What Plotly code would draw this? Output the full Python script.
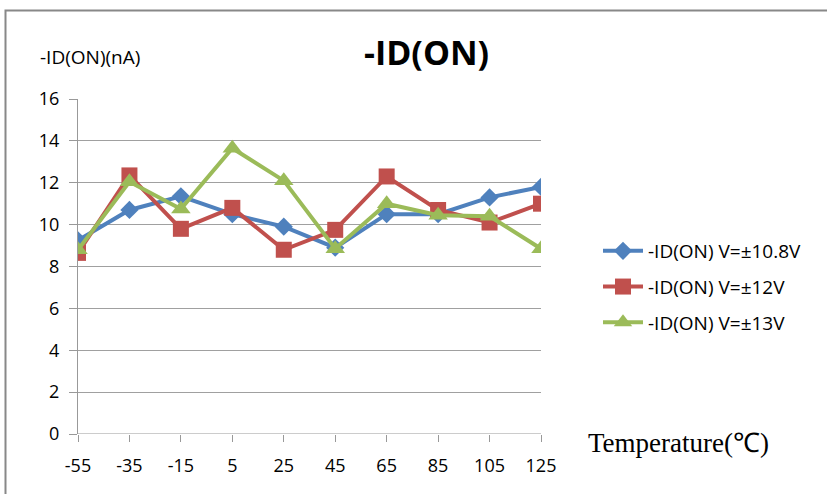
import plotly.graph_objects as go

temps = ["-55", "-35", "-15", "5", "25", "45", "65", "85", "105", "125"]
v108 = [9.25, 10.7, 11.35, 10.5, 9.9, 8.9, 10.5, 10.5, 11.3, 11.8]
v12 = [8.65, 12.35, 9.8, 10.8, 8.8, 9.75, 12.3, 10.7, 10.1, 11.0]
v13 = [8.8, 12.05, 10.75, 13.65, 12.1, 8.85, 11.0, 10.45, 10.4, 8.85]
names = ["-ID(ON) V=±10.8V", "-ID(ON) V=±12V", "-ID(ON) V=±13V"]
yticks = [0, 2, 4, 6, 8, 10, 12, 14, 16]

colors = ["#4F81BD", "#C0504D", "#9BBB59"]
symbols = ["diamond", "square", "triangle-up"]
sizes = [14, 16, 17]

L, R, T, B = 78, 541, 99, 434
W = R - L
H = B - T


def px(x):
    return (x - L) / W


def py(y):
    return (B - y) / H


fig = go.Figure()
for i, (vals, name, c, s, sz) in enumerate(zip([v108, v12, v13], names, colors, symbols, sizes)):
    fig.add_trace(go.Scatter(
        x=list(range(len(temps))), y=vals, name=name, mode="lines+markers",
        legendgroup=f"g{i}",
        line=dict(color=c, width=4),
        marker=dict(symbol=s, size=sz, color=c),
    ))

fig.update_layout(
    width=827, height=494,
    margin=dict(l=L, r=827 - R, t=T, b=494 - B),
    paper_bgcolor="white", plot_bgcolor="white",
    font=dict(family="Open Sans", size=18, color="#000"),
    showlegend=True,
    legend=dict(x=px(598), y=py(232), xanchor="left", yanchor="top",
                font=dict(size=19), tracegroupgap=8, itemwidth=40,
                bgcolor="rgba(0,0,0,0)"),
    xaxis=dict(
        tickmode="array", tickvals=list(range(len(temps))), ticktext=temps,
        range=[0, len(temps) - 1], showgrid=False, zeroline=False,
        ticks="outside", ticklen=7, tickcolor="#999",
        showline=False, tickfont=dict(size=18), ticklabelstandoff=8,
    ),
    yaxis=dict(
        range=[0, 16], tickvals=yticks, showgrid=True, gridcolor="#A0A0A0",
        gridwidth=1, zeroline=False, showline=True, linecolor="#999",
        linewidth=1, ticks="outside", ticklen=8, tickcolor="#999",
        tickfont=dict(size=18), ticklabelstandoff=6,
    ),
    annotations=[
        dict(text="<b>-ID(ON)</b>", x=px(426), y=py(52), xref="paper", yref="paper",
             xanchor="center", yanchor="middle", showarrow=False, font=dict(size=34)),
        dict(text="-ID(ON)(nA)", x=px(38), y=py(57), xref="paper", yref="paper",
             xanchor="left", yanchor="middle", showarrow=False, font=dict(size=19)),
        dict(text="Temperature(℃)", x=px(586), y=py(443), xref="paper", yref="paper",
             xanchor="left", yanchor="middle", showarrow=False,
             font=dict(family="Liberation Serif", size=27)),
    ],
)

# x-axis baseline
fig.add_shape(type="line", xref="paper", yref="y", x0=0, x1=1, y0=0, y1=0,
              line=dict(color="#999", width=1))
# outer frame
fig.add_shape(type="rect", xref="paper", yref="paper",
              x0=px(5.5), x1=px(830), y0=py(500), y1=py(10.5),
              line=dict(color="#888", width=2))

fig.write_html("out.html", config={"displayModeBar": False},
               post_script="document.body.style.margin='0';")
